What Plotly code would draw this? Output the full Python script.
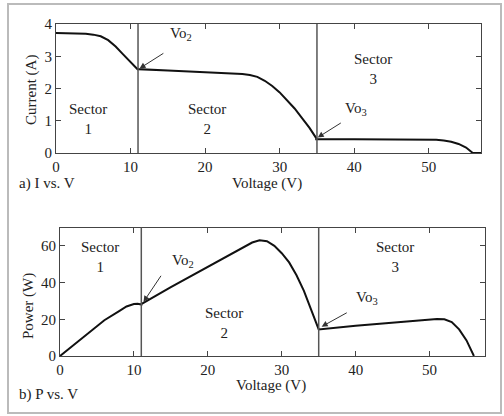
import plotly.graph_objects as go

# ---- data ----
iv_v = [0, 2, 4, 5, 6, 7, 8, 9, 10, 11,
        11, 15, 20, 24, 25, 26, 27, 28, 29, 30, 31, 32, 33, 34, 34.9,
        34.9, 40, 45, 50, 51, 52, 53, 54, 55, 55.9, 57]
iv_i = [3.72, 3.72, 3.70, 3.67, 3.62, 3.50, 3.30, 3.06, 2.82, 2.58,
        2.60, 2.56, 2.51, 2.47, 2.45, 2.42, 2.36, 2.24, 2.08, 1.88, 1.64, 1.38, 1.08, 0.78, 0.46,
        0.43, 0.43, 0.43, 0.42, 0.41, 0.39, 0.35, 0.28, 0.17, 0.0, 0.0]

pv_v = [0, 2, 4, 6, 8, 9, 10, 10.5, 11,
        11, 15, 20, 25, 26, 27, 28, 29, 30, 31, 32, 33, 34, 35,
        35, 40, 45, 50, 51, 52, 53, 54, 55, 56]
pv_p = [0, 6.5, 13, 19.5, 24.5, 27, 28.3, 28.4, 28.0,
        28.3, 37.5, 48.5, 59.5, 61.8, 63.0, 62.5, 60.0, 56.0, 51.0, 44.0, 35.5, 25.5, 15.0,
        14.5, 16.5, 18.3, 20.0, 20.2, 20.0, 18.5, 14.5, 8.5, 0]

sector_bounds = [11, 35]
x_ticks = [0, 10, 20, 30, 40, 50]
i_ticks = [0, 1, 2, 3, 4]
p_ticks = [0, 20, 40, 60]

FONT = "Liberation Serif"
AX = "#444"

fig = go.Figure()
fig.add_trace(go.Scatter(x=iv_v, y=iv_i, mode="lines", line=dict(color="#111", width=2),
                         xaxis="x", yaxis="y", showlegend=False, hoverinfo="skip"))
fig.add_trace(go.Scatter(x=pv_v, y=pv_p, mode="lines", line=dict(color="#111", width=2),
                         xaxis="x2", yaxis="y2", showlegend=False, hoverinfo="skip"))

W, H = 504, 416
L, R, T, B = 56, 19, 24, 60
pw, ph = W - L - R, H - T - B


def px(x):
    return (x - L) / pw


def py(y):
    return (H - B - y) / ph


axis_common = dict(showline=True, linecolor=AX, linewidth=1, mirror="ticks", ticks="inside",
                   ticklen=5, tickcolor=AX, showgrid=False, zeroline=False,
                   tickfont=dict(family=FONT, size=15, color="#222"))

fig.update_layout(
    width=W, height=H, margin=dict(l=L, r=R, t=T, b=B),
    paper_bgcolor="white", plot_bgcolor="white",
    font=dict(family=FONT, size=15, color="#222"),
    xaxis=dict(domain=[0, px(481)], range=[0, 57], tickvals=x_ticks, anchor="y", **axis_common),
    yaxis=dict(domain=[py(153), 1], range=[0, 4], tickvals=i_ticks, anchor="x", **axis_common),
    xaxis2=dict(domain=[px(60), 1], range=[0, 57.5], tickvals=x_ticks, anchor="y2", **axis_common),
    yaxis2=dict(domain=[0, py(227.5)], range=[0, 70], tickvals=p_ticks, anchor="x2", **axis_common),
)

shapes = []
for xa, ya in (("x", "y"), ("x2", "y2")):
    for b in sector_bounds:
        shapes.append(dict(type="line", xref=xa, yref=ya + " domain", x0=b, x1=b, y0=0, y1=1,
                           line=dict(color="#555", width=1.5)))
shapes.append(dict(type="rect", xref="paper", yref="paper", x0=px(8), x1=px(501),
                   y0=py(413), y1=py(4), line=dict(color="#bbb", width=2), layer="above"))
fig.update_layout(shapes=shapes)

ann = []


def txt(x, y, s, xr, yr, xanchor="center", **kw):
    ann.append(dict(x=x, y=y, text=s, xref=xr, yref=yr, showarrow=False,
                    xanchor=xanchor, yanchor="middle",
                    font=dict(family=FONT, size=15, color="#222"), **kw))


# sector labels plot 1
txt(4.3, 1.05, "Sector<br>1", "x", "y")
txt(20.2, 1.05, "Sector<br>2", "x", "y")
txt(42.5, 2.6, "Sector<br>3", "x", "y")
# sector labels plot 2
txt(5.4, 54, "Sector<br>1", "x2", "y2")
txt(22.2, 18, "Sector<br>2", "x2", "y2")
txt(45.3, 54, "Sector<br>3", "x2", "y2")

# Vo labels
txt(16.7, 3.7, "Vo<sub>2</sub>", "x", "y")
txt(40.3, 1.35, "Vo<sub>3</sub>", "x", "y")
txt(16.7, 51.5, "Vo<sub>2</sub>", "x2", "y2")
txt(41.5, 31.5, "Vo<sub>3</sub>", "x2", "y2")


def arrow(x, y, axx, ayy, xr, yr):
    ann.append(dict(x=x, y=y, ax=axx, ay=ayy, xref=xr, yref=yr, axref=xr, ayref=yr,
                    showarrow=True, arrowhead=2, arrowsize=1.2, arrowwidth=1,
                    arrowcolor="#333", text=""))


arrow(11.2, 2.62, 14.6, 3.12, "x", "y")
arrow(35.1, 0.48, 38.4, 0.96, "x", "y")
arrow(11.3, 29.5, 13.8, 44.5, "x2", "y2")
arrow(35.4, 16, 39.0, 24, "x2", "y2")

# axis titles & panel labels
txt(px(31), py(90), "Current (A)", "paper", "paper", textangle=-90)
txt(px(28), py(306), "Power (W)", "paper", "paper", textangle=-90)
txt(px(267), py(183), "Voltage (V)", "paper", "paper")
txt(px(271), py(385), "Voltage (V)", "paper", "paper")
txt(px(17), py(183), "a) I vs. V", "paper", "paper", xanchor="left")
txt(px(17), py(394), "b) P vs. V", "paper", "paper", xanchor="left")

fig.update_layout(annotations=ann)
fig.write_html("out.html", config={"displayModeBar": False},
               post_script="document.body.style.margin='0';document.body.style.overflow='hidden';")
